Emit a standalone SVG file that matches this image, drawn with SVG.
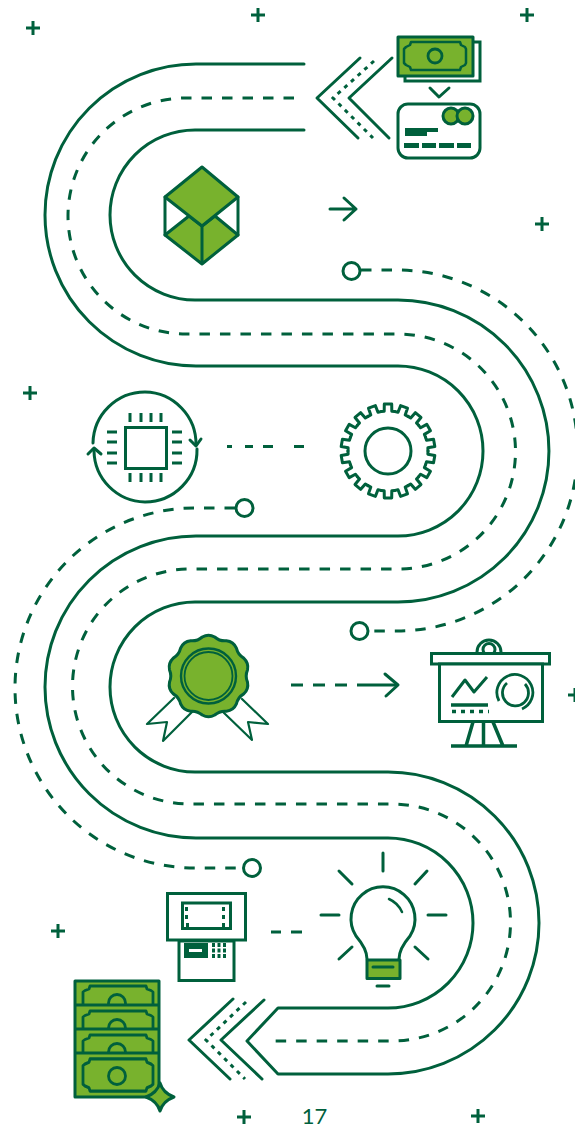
<svg xmlns="http://www.w3.org/2000/svg" width="575" height="1129" viewBox="0 0 575 1129">
<style>
.l{fill:none;stroke:#00603c;stroke-width:3;stroke-linecap:round;stroke-linejoin:round}
.m{fill:none;stroke:#00603c;stroke-width:3;stroke-linecap:butt;stroke-linejoin:miter}
.g{fill:#78b22d;stroke:#00603c;stroke-width:3;stroke-linejoin:round}
.w{fill:#fff;stroke:#00603c;stroke-width:3;stroke-linejoin:miter}
.d{fill:none;stroke:#00603c;stroke-width:3;stroke-dasharray:10.500 10}
.dot{fill:none;stroke:#00603c;stroke-width:3;stroke-dasharray:4 5;stroke-linecap:butt}
.f{fill:#00603c}
.p{stroke:#00603c;stroke-width:3;fill:none}
</style>
<defs>
<path id="tooth" d="M-6.900-39.400L-3.800-39.800L-3.700-46.900H3.700L3.800-39.800L6.900-39.400" class="l"/>
<path id="plus" d="M-7 0H7M0-7V7" class="p"/>
<path id="note" d="M-28-14H28L29-11L33-9.500L35-8V8L33 9.500L29 11L28 14H-28L-29 11L-33 9.500L-35 8V-8L-33-9.500L-29-11Z" style="fill:none;stroke:#00603c;stroke-width:2.800;stroke-linejoin:round"/>
<clipPath id="c1"><rect x="74" y="980" width="85" height="25"/></clipPath>
<clipPath id="c2"><rect x="74" y="1005" width="85" height="24"/></clipPath>
<clipPath id="c3"><rect x="74" y="1029" width="85" height="24"/></clipPath>
</defs>
<g id="connectors">
<path class="l" d="M304 64H196A151 151 0 0 0 196 366H398A85 85 0 0 1 398 536H196A151 151 0 0 0 196 838H388A85 85 0 0 1 388 1008H278L247 1041L278 1074H388A151 151 0 0 0 388 772H195A85 85 0 0 1 195 602H398A151 151 0 0 0 398 300H195A85 85 0 0 1 195 130H304"/>
<path class="d" d="M294 98H186A118 118 0 0 0 186 334H398A117.500 117.500 0 0 1 398 569H190A117.500 117.500 0 0 0 190 804H392A118.500 118.500 0 0 1 392 1041H268"/>
<path class="d" d="M361 270H397A180.500 180.500 0 0 1 397 631H369"/>
<path class="d" d="M235 508H195A180 180 0 0 0 195 868H243"/>
<circle class="l" cx="351.500" cy="271" r="8.500"/>
<circle class="l" cx="359.500" cy="631" r="8.500"/>
<circle class="l" cx="244.500" cy="508" r="8.500"/>
<circle class="l" cx="252" cy="868" r="8.500"/>
<path class="l" d="M360 58L317 98L358 138M392 58L349 98L389 138"/>
<path class="dot" d="M374 61L333 98L373 138"/>
<path class="l" d="M233 999L189 1040L230 1079M264 1000L221 1040L262 1079"/>
<path class="dot" d="M246 1002L206 1040L245 1079"/>
<path class="l" d="M330 209H356M344 198L356 209L344 220"/>
<path class="m" d="M227 446.500H232M245 446.500H253M263 446.500H273M294 446.500H304"/>
<path class="m" d="M291 685H303M313 685H325M335 685H347M357 685H397"/>
<path class="l" d="M385 674L398 685L386 696"/>
<path class="m" d="M271 932H281M291 932H302"/>
<path class="l" d="M430 88L439 97L449 88"/>
</g>
<g id="plus-signs">
<use href="#plus" x="33" y="28"/><use href="#plus" x="258" y="15"/><use href="#plus" x="527" y="15"/><use href="#plus" x="542" y="224"/><use href="#plus" x="30" y="393"/><use href="#plus" x="58" y="931"/><use href="#plus" x="244" y="1117"/><use href="#plus" x="478" y="1116"/><use href="#plus" x="575" y="695"/>
</g>
<g id="node-cash">
<rect class="w" x="405" y="42" width="75" height="39"/>
<rect class="g" x="398" y="37" width="75" height="39"/>
<path d="M411 42H460L461 45L465 47L466 49V63L465 65L461 67L460 70H411L410 67L406 65L404 63V49L406 47L410 45Z" style="fill:none;stroke:#00603c;stroke-width:2.500;stroke-linejoin:round"/>
<circle cx="435" cy="56" r="7" style="fill:none;stroke:#00603c;stroke-width:2.800"/>
</g>
<g id="node-card">
<rect class="w" x="398" y="104" width="82" height="54" rx="10"/>
<circle class="g" cx="451" cy="116" r="8"/>
<circle class="g" cx="465" cy="116" r="8"/>
<rect class="f" x="405" y="128" width="33" height="4"/>
<rect class="f" x="405" y="132" width="22" height="4"/>
<rect class="f" x="404" y="143" width="15" height="5"/><rect class="f" x="422" y="143" width="14" height="5"/><rect class="f" x="439" y="143" width="15" height="5"/><rect class="f" x="457" y="143" width="14" height="5"/>
</g>
<g id="node-cube">
<path class="g" d="M165 235L189 216L202 226V264ZM238 235L215 216L202 226V264Z"/>
<path class="l" d="M165 197V235M238 197V235"/>
<path class="g" d="M202 167L238 197L202 226L165 197Z"/>
</g>
<g id="node-chip">
<path class="l" d="M93 443A52 52 0 0 1 145 392A52 52 0 0 1 196 445M197 449A52 52 0 0 1 145 502A52 52 0 0 1 94 451"/>
<path class="l" d="M190 440L196 446L201 439M88 454L94 448L101 454"/>
<rect class="w" x="125.500" y="427.500" width="41" height="41"/>
<path class="m" d="M130 413V422M141 413V422M151 413V422M161 413V422M130 473V482M141 473V482M151 473V482M161 473V482M107 432H117M107 442H117M107 453H117M107 463H117M172 432H182M172 442H182M172 453H182M172 463H182"/>
</g>
<g id="node-gear">
<g transform="translate(388 451)">
<use href="#tooth"/><use href="#tooth" transform="rotate(20)"/><use href="#tooth" transform="rotate(40)"/><use href="#tooth" transform="rotate(60)"/><use href="#tooth" transform="rotate(80)"/><use href="#tooth" transform="rotate(100)"/><use href="#tooth" transform="rotate(120)"/><use href="#tooth" transform="rotate(140)"/><use href="#tooth" transform="rotate(160)"/><use href="#tooth" transform="rotate(180)"/><use href="#tooth" transform="rotate(200)"/><use href="#tooth" transform="rotate(220)"/><use href="#tooth" transform="rotate(240)"/><use href="#tooth" transform="rotate(260)"/><use href="#tooth" transform="rotate(280)"/><use href="#tooth" transform="rotate(300)"/><use href="#tooth" transform="rotate(320)"/><use href="#tooth" transform="rotate(340)"/>
<circle r="23" class="l"/>
</g>
</g>
<g id="node-badge">
<path class="l" style="stroke-width:2.200;fill:#fff" d="M174 698L147 724L167 722L163 741L193 711M242 699L268 724L248 722L252 740L222 711"/>
<g transform="translate(208.500 676)">
<path class="g" d="M-6.200-39Q0-42.500 6.200-39Q11.200-34.600 17.900-35.200Q25-34.400 27.900-27.900Q29.400-21.400 35.200-17.900Q40.400-13.100 39-6.200Q36.400 0 39 6.200Q40.400 13.100 35.200 17.900Q29.400 21.400 27.900 27.900Q25 34.400 17.900 35.200Q11.200 34.600 6.200 39Q0 42.500-6.200 39Q-11.200 34.600-17.900 35.200Q-25 34.400-27.900 27.900Q-29.400 21.400-35.200 17.900Q-40.400 13.100-39 6.200Q-36.400 0-39-6.200Q-40.400-13.100-35.200-17.900Q-29.400-21.400-27.900-27.900Q-25-34.400-17.900-35.200Q-11.200-34.600-6.200-39Z"/>
<circle r="27.500" style="fill:none;stroke:#00603c;stroke-width:2.400"/>
<circle r="24" style="fill:none;stroke:#00603c;stroke-width:1.800"/>
</g>
</g>
<g id="node-board">
<circle cx="489" cy="652" r="12" class="w"/>
<circle cx="489" cy="649.500" r="6" class="w"/>
<rect class="w" x="431.500" y="653.500" width="118" height="10.500"/>
<rect class="w" x="439.500" y="664" width="103" height="57.500"/>
<path class="m" style="stroke-width:3.500" d="M473 722L466 746M493 722L503 746M483.500 722V746M451 746H517"/>
<path class="l" style="stroke-linecap:butt" d="M452 697L465 680L474 692L487 677"/>
<path class="m" style="stroke-width:3.500" d="M451 705H488"/>
<path class="m" style="stroke-width:3.500;stroke-dasharray:4 5" d="M452 711.500H489"/>
<path class="m" style="stroke-width:2.800" d="M499 701A18 18 0 1 1 522 709M507 683A13 13 0 1 0 525 684"/>
</g>
<g id="node-atm">
<rect class="w" x="179" y="941" width="55" height="39.500"/>
<rect class="w" x="167.500" y="893.500" width="78" height="46.500"/>
<rect class="w" x="182.500" y="903" width="48" height="25.500"/>
<path class="f" d="M185 907h3v4h-3zM185 915h3v4h-3zM186 923h3v4h-3zM222 907h3v4h-3zM222 915h3v4h-3zM222 923h3v4h-3z"/>
<rect class="f" x="184" y="943" width="24" height="15"/>
<rect x="189" y="949" width="13" height="3" fill="#fff"/>
<path class="f" d="M212 943h3v4h-3zM217.500 943h3v4h-3zM223 943h3v4h-3zM212 948.500h3v4h-3zM217.500 948.500h3v4h-3zM223 948.500h3v4h-3zM212 954h3v4h-3zM217.500 954h3v4h-3zM223 954h3v4h-3z"/>
</g>
<g id="node-bulb">
<path class="l" d="M367 959C367 950 362 943 356 936A32 32 0 1 1 410 936C404 943 399 950 399 959"/>
<rect class="g" x="367" y="960" width="33" height="18.500"/>
<path class="l" d="M373 967H393M377 986H389M383 853V871M321 915H339M428 915H446M339 871L352 884M427 871L415 884M352 947L339 959M415 947L428 959"/>
<path class="l" style="stroke-width:2.500" d="M389 899Q398 903 402 912"/>
</g>
<g id="node-stack">
<rect class="g" x="75" y="981" width="84" height="116"/>
<path class="p" d="M75 1005H159M75 1029H159M75 1053H159"/>
<g clip-path="url(#c1)"><use href="#note" x="118" y="1000"/><circle cx="117" cy="1003" r="8.500" class="l" style="stroke-width:2.800"/></g>
<g clip-path="url(#c2)"><use href="#note" x="118" y="1025"/><circle cx="117" cy="1028" r="8.500" class="l" style="stroke-width:2.800"/></g>
<g clip-path="url(#c3)"><use href="#note" x="118" y="1049"/><circle cx="117" cy="1052" r="8.500" class="l" style="stroke-width:2.800"/></g>
<use href="#note" transform="translate(118 1075) scale(1 1.150)"/>
<circle cx="117" cy="1076" r="8.500" class="l" style="stroke-width:2.800"/>
<path d="M146 1097Q157 1093 160 1083Q163 1093 174 1097Q163 1101 160 1111Q157 1101 146 1097Z" class="g"/>
</g>
<text id="page-number" x="314.500" y="1124" text-anchor="middle" font-family="Lato,sans-serif" font-size="22" fill="#00603c">17</text>
</svg>
